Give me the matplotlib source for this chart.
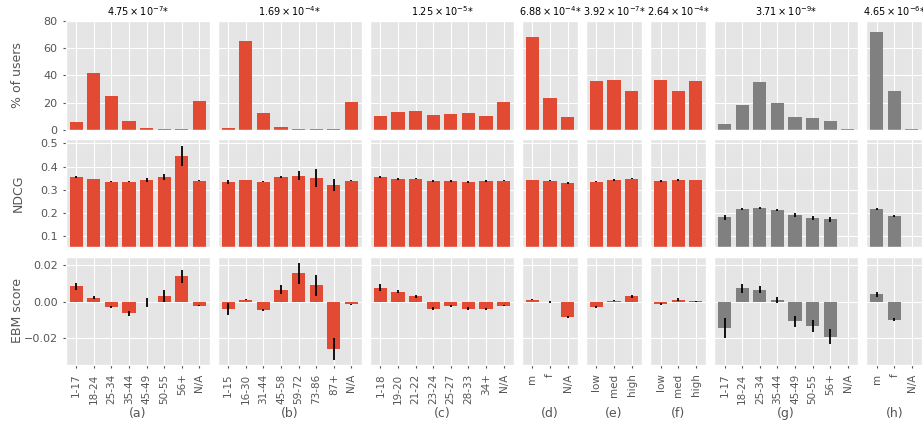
import numpy as np
import matplotlib.pyplot as plt

plt.style.use('ggplot')

# categories per panel
age_a = ['1-17', '18-24', '25-34', '35-44', '45-49', '50-55', '56+', 'N/A']
age_b = ['1-15', '16-30', '31-44', '45-58', '59-72', '73-86', '87+', 'N/A']
age_c = ['1-18', '19-20', '21-22', '23-24', '25-27', '28-33', '34+', 'N/A']
gender = ['m', 'f', 'N/A']
level = ['low', 'med', 'high']

cats = [age_a, age_b, age_c, gender, level, level, age_a, gender]
letters = ['(a)', '(b)', '(c)', '(d)', '(e)', '(f)', '(g)', '(h)']
titles = [r'$4.75 \times 10^{-7}$*', r'$1.69 \times 10^{-4}$*', r'$1.25 \times 10^{-5}$*',
          r'$6.88 \times 10^{-4}$*', r'$3.92 \times 10^{-7}$*', r'$2.64 \times 10^{-4}$*',
          r'$3.71 \times 10^{-9}$*', r'$4.65 \times 10^{-6}$*']
gray_panels = [6, 7]

# % of users
pct = [
    [5.7, 41.8, 24.9, 6.4, 1.2, 0.4, 0.4, 21.2],
    [1.2, 65.5, 12.3, 2.0, 0.3, 0.3, 0.3, 20.4],
    [10.1, 13.0, 13.8, 10.8, 11.6, 12.3, 10.1, 20.4],
    [68.4, 23.4, 9.4],
    [35.9, 36.7, 28.8],
    [36.7, 28.6, 35.9],
    [4.2, 18.2, 35.2, 19.7, 9.4, 8.6, 6.4, 0.3],
    [71.9, 28.6, 0.3],
]

# NDCG and error
ndcg = [
    [0.355, 0.347, 0.334, 0.334, 0.342, 0.355, 0.446, 0.338],
    [0.334, 0.342, 0.334, 0.355, 0.360, 0.351, 0.321, 0.338],
    [0.355, 0.347, 0.347, 0.338, 0.338, 0.334, 0.338, 0.338],
    [0.342, 0.338, 0.329],
    [0.334, 0.342, 0.347],
    [0.338, 0.342, 0.342],
    [0.183, 0.218, 0.222, 0.213, 0.192, 0.179, 0.174, np.nan],
    [0.218, 0.188, np.nan],
]
ndcg_err = [
    [0.003, 0.001, 0.002, 0.002, 0.009, 0.014, 0.044, 0.002],
    [0.009, 0.002, 0.002, 0.006, 0.019, 0.037, 0.025, 0.002],
    [0.005, 0.003, 0.002, 0.003, 0.003, 0.003, 0.003, 0.002],
    [0.002, 0.002, 0.003],
    [0.002, 0.003, 0.002],
    [0.003, 0.003, 0.002],
    [0.011, 0.006, 0.004, 0.006, 0.008, 0.008, 0.010, np.nan],
    [0.003, 0.004, np.nan],
]

# EBM score and error
ebm = [
    [0.0083, 0.0022, -0.0028, -0.0064, -0.0004, 0.0033, 0.0138, -0.0022],
    [-0.0039, 0.0011, -0.0044, 0.0066, 0.0154, 0.0088, -0.0259, -0.0015],
    [0.0077, 0.0055, 0.0028, -0.0039, -0.0022, -0.0039, -0.0039, -0.0022],
    [0.0011, -0.0004, -0.0083],
    [-0.0028, 0.0005, 0.0028],
    [-0.0011, 0.0011, 0.0002],
    [-0.0143, 0.0072, 0.0066, 0.0011, -0.0108, -0.0132, -0.0193, -0.0002],
    [0.0039, -0.0099, -0.0002],
]
ebm_err = [
    [0.0021, 0.0006, 0.0006, 0.0014, 0.0025, 0.0033, 0.0034, 0.0004],
    [0.0033, 0.0004, 0.0006, 0.0024, 0.0056, 0.0056, 0.0062, 0.0003],
    [0.0018, 0.0010, 0.0006, 0.0008, 0.0006, 0.0008, 0.0005, 0.0003],
    [0.0004, 0.0005, 0.0006],
    [0.0005, 0.0003, 0.0006],
    [0.0006, 0.0006, 0.0002],
    [0.0056, 0.0025, 0.0018, 0.0016, 0.0029, 0.0034, 0.0041, 0.0002],
    [0.0013, 0.0009, 0.0002],
]

rows = [(pct, None, '% of users', (0, 80), [0, 20, 40, 60, 80]),
        (ndcg, ndcg_err, 'NDCG', (0.053, 0.5185), [0.1, 0.2, 0.3, 0.4, 0.5]),
        (ebm, ebm_err, 'EBM score', (-0.0347, 0.0246), [-0.02, 0.0, 0.02])]

widths = [len(c) + 0.16 for c in cats]
fig, axes = plt.subplots(3, 8, figsize=(9.23, 4.24), dpi=100,
                         gridspec_kw=dict(width_ratios=widths, wspace=0.085, hspace=0.085,
                                          left=0.0715, right=0.999, top=0.95, bottom=0.139))

for r, (vals, errs, ylab, ylim, yt) in enumerate(rows):
    for c in range(8):
        ax = axes[r, c]
        n = len(cats[c])
        x = np.arange(n)
        color = '#808080' if c in gray_panels else '#E24A33'
        if errs is None:
            ax.bar(x, vals[c], width=0.75, color=color)
        else:
            ax.bar(x, vals[c], width=0.75, color=color, yerr=errs[c],
                   error_kw=dict(ecolor='black', elinewidth=1.3, capsize=0))
        ax.set_xlim(-0.58, n - 0.42)
        ax.set_ylim(*ylim)
        ax.set_yticks(yt)
        ax.set_xticks(x)
        ax.tick_params(axis='y', labelsize=8, colors='#555555', length=2.5)
        ax.tick_params(axis='x', labelsize=7.5, colors='#555555', length=2.5)
        if c == 0:
            ax.set_ylabel(ylab, fontsize=9, color='#555555')
            ax.yaxis.set_label_coords(-0.29, 0.5)
        else:
            ax.tick_params(left=False, labelleft=False)
        if r == 2:
            ax.set_xticklabels(cats[c], rotation=90)
            ax.set_xlabel(letters[c], fontsize=9, color='#555555')
            # all panel letters on one line
            ax.xaxis.set_label_coords(0.5, -0.385)
        else:
            ax.tick_params(bottom=False, labelbottom=False)
        if r == 0:
            ax.set_title(titles[c], fontsize=7, pad=4)

fig.savefig('out.png', dpi=100)
